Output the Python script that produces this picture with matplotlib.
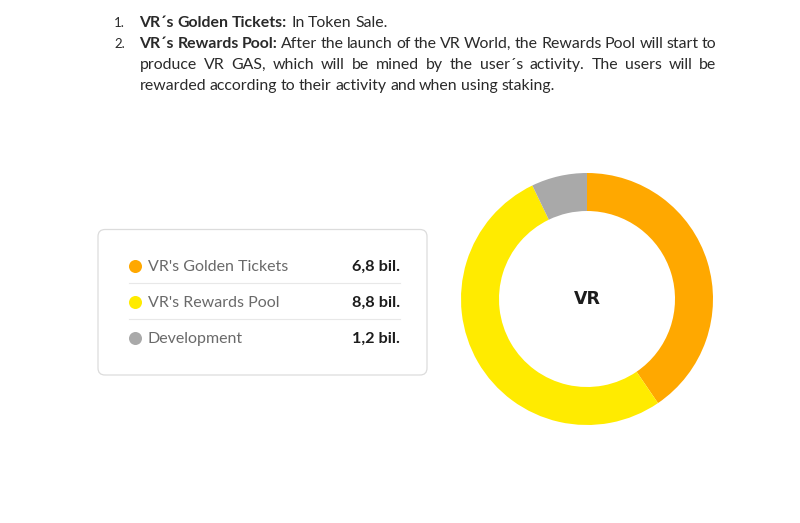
import matplotlib
matplotlib.use("Agg")
import matplotlib.pyplot as plt
from matplotlib.patches import FancyBboxPatch

categories = ["VR's Golden Tickets", "VR's Rewards Pool", "Development"]
values = [6.8, 8.8, 1.2]
value_labels = ["6,8 bil.", "8,8 bil.", "1,2 bil."]
colors = ["#FFA800", "#FFEB00", "#A9A9A9"]

W, H = 800, 523
FONT = "Lato"
TEXT = "#2a2a2a"
fig = plt.figure(figsize=(W / 100, H / 100), dpi=100, facecolor="white")
ax = fig.add_axes([0, 0, 1, 1])
ax.set_xlim(0, W)
ax.set_ylim(H, 0)
ax.axis("off")

# Legend card
ax.add_patch(FancyBboxPatch((98, 229.5), 329, 145.5, boxstyle="round,pad=0,rounding_size=7",
                            fc="white", ec="#dcdcdc", lw=0.9))
row_y = [266, 302, 338]
for y in [283, 318.5]:
    ax.plot([129, 400], [y, y], color="#e8e8e8", lw=0.8)
for name, val, c, y in zip(categories, value_labels, colors, row_y):
    ax.scatter([135], [y], s=88, color=c, linewidths=0, zorder=3)
    ax.text(147.5, y + 1, name, fontsize=11.5, family=FONT, color="#6a6a6a", va="center", ha="left")
    ax.text(400, y + 1, val, fontsize=11.7, family=FONT, weight="bold", color="#1c1c1c", va="center", ha="right")

# Paragraph, justified word by word
renderer = fig.canvas.get_renderer()
FS = 11.4

def width(s, weight):
    t = ax.text(0, 0, s, fontsize=FS, family=FONT, weight=weight)
    w = t.get_window_extent(renderer).width
    t.remove()
    return w

def draw_line(y, runs, justify):
    words = [(w, wt) for s, wt in runs for w in s.split(" ")]
    widths = [width(w, wt) for w, wt in words]
    gap = (716.5 - 139.5 - sum(widths)) / (len(words) - 1) if justify else 3.6
    x = 139.5
    for (w, wt), wd in zip(words, widths):
        ax.text(x, y, w, fontsize=FS, family=FONT, weight=wt, color=TEXT, va="center", ha="left")
        x += wd + gap

ax.text(114, 23, "1.", fontsize=9.5, family=FONT, color=TEXT, va="center")
ax.text(114, 44, "2.", fontsize=9.5, family=FONT, color=TEXT, va="center")
draw_line(23, [("VR´s Golden Tickets:", "bold"), ("In Token Sale.", "normal")], False)
draw_line(44, [("VR´s Rewards Pool:", "bold"),
               ("After the launch of the VR World, the Rewards Pool will start to", "normal")], True)
draw_line(65, [("produce VR GAS, which will be mined by the user´s activity. The users will be", "normal")], True)
draw_line(86, [("rewarded according to their activity and when using staking.", "normal")], False)

# Donut
cx, cy, R, r = 587, 299, 126, 88
pax = fig.add_axes([(cx - R) / W, 1 - (cy + R) / H, 2 * R / W, 2 * R / H])
pax.pie(values, colors=colors, startangle=90, counterclock=False, radius=1,
        wedgeprops=dict(width=1 - r / R, linewidth=0))
pax.set_xlim(-1, 1)
pax.set_ylim(-1, 1)
pax.set_aspect("equal")
ax.text(587, 298.5, "VR", fontsize=12.5, family="DejaVu Sans", weight="bold", color="#1c1c1c",
        ha="center", va="center")

fig.savefig("out.png", dpi=100)
